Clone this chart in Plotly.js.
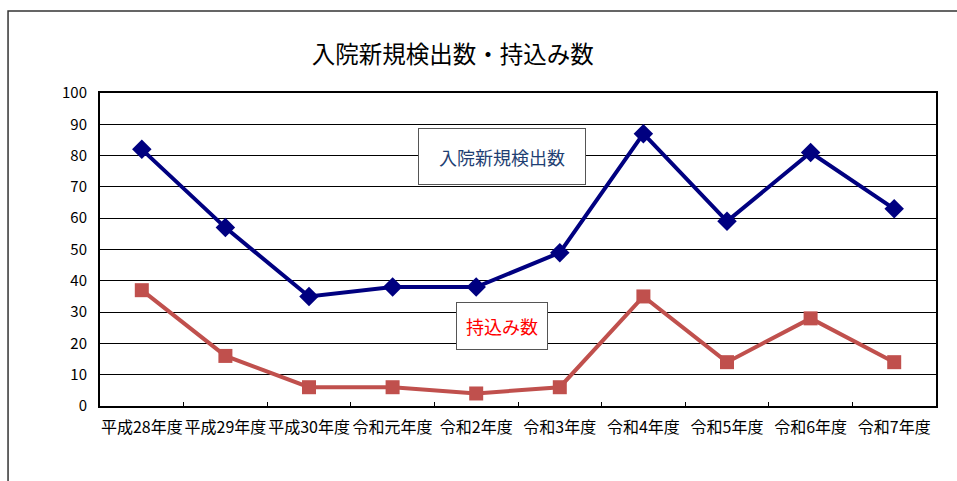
<!DOCTYPE html>
<html>
<head>
<meta charset="utf-8">
<script src="https://cdn.plot.ly/plotly-3.0.1.min.js"></script>
<style>html,body{margin:0;padding:0;background:#fff;}#chart{width:957px;height:481px;}</style>
</head>
<body>
<div id="chart"></div>
<script>
const categories = ["平成28年度","平成29年度","平成30年度","令和元年度","令和2年度","令和3年度","令和4年度","令和5年度","令和6年度","令和7年度"];
const detected = [82, 57, 35, 38, 38, 49, 87, 59, 81, 63];
const broughtIn = [37, 16, 6, 6, 4, 6, 35, 14, 28, 14];
const seriesNames = ["入院新規検出数", "持込み数"];
const chartTitle = "入院新規検出数・持込み数";

const FONT = '"Noto Sans CJK JP", "Noto Sans", sans-serif';

const traces = [
  {
    x: categories, y: detected, name: seriesNames[0], type: 'scatter', mode: 'lines+markers',
    line: {color: '#000080', width: 4},
    marker: {symbol: 'diamond', size: 15, color: '#000080'},
    cliponaxis: false
  },
  {
    x: categories, y: broughtIn, name: seriesNames[1], type: 'scatter', mode: 'lines+markers',
    line: {color: '#C0504D', width: 4},
    marker: {symbol: 'square', size: 14, color: '#C0504D'},
    cliponaxis: false
  }
];

const layout = {
  width: 957, height: 481,
  margin: {l: 100, r: 21, t: 93, b: 75},
  paper_bgcolor: '#fff', plot_bgcolor: '#fff',
  showlegend: false,
  font: {family: FONT, color: '#000'},
  title: {
    text: chartTitle, font: {family: FONT, size: 23.5, color: '#000'},
    x: 0.473, xref: 'container', xanchor: 'center',
    y: 1 - 55/481, yref: 'container', yanchor: 'middle'
  },
  xaxis: {
    type: 'category',
    range: [-0.5, 9.5], autorange: false,
    showgrid: false,
    showline: true, linecolor: '#000', linewidth: 2, mirror: true,
    ticks: 'inside', tickson: 'boundaries', ticklen: 4, tickcolor: '#000', tickwidth: 1,
    tickangle: 0,
    tickfont: {family: FONT, size: 16, color: '#000'},
    ticklabelstandoff: 6,
    zeroline: false,
    fixedrange: true
  },
  yaxis: {
    range: [0, 100], autorange: false, dtick: 10, tick0: 0,
    showgrid: true, gridcolor: '#000', gridwidth: 1,
    showline: true, linecolor: '#000', linewidth: 2, mirror: true,
    ticks: '',
    tickfont: {family: FONT, size: 15, color: '#000'},
    ticklabelstandoff: 8,
    zeroline: false,
    fixedrange: true
  },
  shapes: [
    {type: 'rect', xref: 'paper', yref: 'paper', x0: -0.110, x1: 1.2, y0: -0.6, y1: 1.262,
     line: {color: '#333', width: 1.5}, fillcolor: 'rgba(0,0,0,0)', layer: 'below'}
  ],
  annotations: [
    {xref: 'paper', yref: 'paper', x: 0.481, y: 0.797, xanchor: 'center', yanchor: 'middle',
     text: seriesNames[0], showarrow: false, font: {family: FONT, size: 18, color: '#1F3F73'},
     bgcolor: '#fff', bordercolor: '#555', borderwidth: 1, borderpad: 0, width: 166, height: 55},
    {xref: 'paper', yref: 'paper', x: 0.481, y: 0.256, xanchor: 'center', yanchor: 'middle',
     text: seriesNames[1], showarrow: false, font: {family: FONT, size: 18, color: '#FF0000'},
     bgcolor: '#fff', bordercolor: '#555', borderwidth: 1, borderpad: 0, width: 90, height: 46}
  ]
};

Plotly.newPlot('chart', traces, layout, {staticPlot: true, displayModeBar: false});
</script>
</body>
</html>
